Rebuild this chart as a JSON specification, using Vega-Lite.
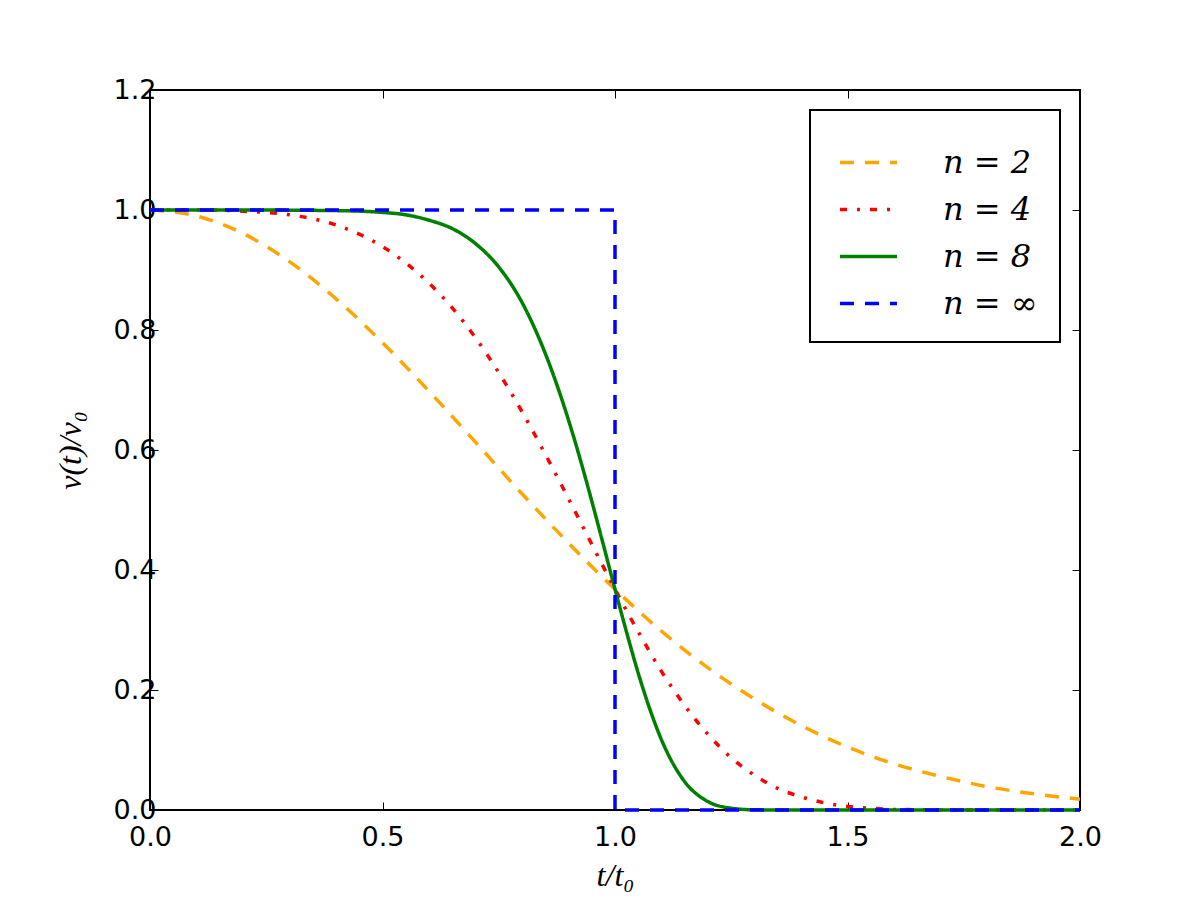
{
  "$schema": "https://vega.github.io/schema/vega-lite/v6.json",
  "width": 930,
  "height": 720,
  "autosize": {"type": "none"},
  "padding": {"left": 150, "top": 90, "right": 120, "bottom": 90},
  "background": "white",
  "config": {
    "view": {"stroke": "black", "strokeWidth": 2},
    "axis": {
      "domain": false, "grid": false,
      "tickColor": "black", "tickSize": -8, "tickWidth": 1,
      "labelFont": "DejaVu Sans", "labelFontSize": 27, "labelColor": "black", "labelFlush": false,
      "titleFont": "Liberation Serif", "titleFontStyle": "italic", "titleFontWeight": "normal",
      "titleFontSize": 32, "titleColor": "black"
    },
    "legend": {
      "orient": "top-right", "offset": 20,
      "strokeColor": "black", "strokeWidth": 2, "fillColor": "white",
      "padding": 22,
      "symbolType": "stroke", "symbolSize": 3250, "symbolStrokeWidth": 3.5, "symbolOffset": 6,
      "labelFont": "DejaVu Serif", "labelFontStyle": "italic", "labelFontSize": 32,
      "labelColor": "black", "labelOffset": 44, "rowPadding": -2
    }
  },
  "datasets": {
    "curves": [
      {"n": "n = 2", "t": 0, "v": 1},
      {"n": "n = 2", "t": 0.1, "v": 0.990},
      {"n": "n = 2", "t": 0.2, "v": 0.961},
      {"n": "n = 2", "t": 0.3, "v": 0.914},
      {"n": "n = 2", "t": 0.4, "v": 0.852},
      {"n": "n = 2", "t": 0.5, "v": 0.779},
      {"n": "n = 2", "t": 0.6, "v": 0.698},
      {"n": "n = 2", "t": 0.7, "v": 0.613},
      {"n": "n = 2", "t": 0.8, "v": 0.527},
      {"n": "n = 2", "t": 0.9, "v": 0.445},
      {"n": "n = 2", "t": 1.0, "v": 0.368},
      {"n": "n = 2", "t": 1.1, "v": 0.298},
      {"n": "n = 2", "t": 1.2, "v": 0.237},
      {"n": "n = 2", "t": 1.3, "v": 0.185},
      {"n": "n = 2", "t": 1.4, "v": 0.141},
      {"n": "n = 2", "t": 1.5, "v": 0.105},
      {"n": "n = 2", "t": 1.6, "v": 0.077},
      {"n": "n = 2", "t": 1.7, "v": 0.056},
      {"n": "n = 2", "t": 1.8, "v": 0.039},
      {"n": "n = 2", "t": 1.9, "v": 0.027},
      {"n": "n = 2", "t": 2.0, "v": 0.018},
      {"n": "n = 4", "t": 0, "v": 1},
      {"n": "n = 4", "t": 0.1, "v": 1.0},
      {"n": "n = 4", "t": 0.2, "v": 0.998},
      {"n": "n = 4", "t": 0.3, "v": 0.992},
      {"n": "n = 4", "t": 0.4, "v": 0.975},
      {"n": "n = 4", "t": 0.5, "v": 0.939},
      {"n": "n = 4", "t": 0.6, "v": 0.878},
      {"n": "n = 4", "t": 0.65, "v": 0.837},
      {"n": "n = 4", "t": 0.7, "v": 0.787},
      {"n": "n = 4", "t": 0.75, "v": 0.729},
      {"n": "n = 4", "t": 0.8, "v": 0.664},
      {"n": "n = 4", "t": 0.85, "v": 0.593},
      {"n": "n = 4", "t": 0.9, "v": 0.519},
      {"n": "n = 4", "t": 0.95, "v": 0.443},
      {"n": "n = 4", "t": 1.0, "v": 0.368},
      {"n": "n = 4", "t": 1.05, "v": 0.297},
      {"n": "n = 4", "t": 1.1, "v": 0.231},
      {"n": "n = 4", "t": 1.15, "v": 0.174},
      {"n": "n = 4", "t": 1.2, "v": 0.126},
      {"n": "n = 4", "t": 1.25, "v": 0.087},
      {"n": "n = 4", "t": 1.3, "v": 0.058},
      {"n": "n = 4", "t": 1.35, "v": 0.036},
      {"n": "n = 4", "t": 1.4, "v": 0.022},
      {"n": "n = 4", "t": 1.45, "v": 0.012},
      {"n": "n = 4", "t": 1.5, "v": 0.006},
      {"n": "n = 4", "t": 1.55, "v": 0.003},
      {"n": "n = 4", "t": 1.6, "v": 0.001},
      {"n": "n = 4", "t": 1.7, "v": 0.0002},
      {"n": "n = 4", "t": 1.8, "v": 0},
      {"n": "n = 4", "t": 2.0, "v": 0},
      {"n": "n = 8", "t": 0, "v": 1},
      {"n": "n = 8", "t": 0.2, "v": 1},
      {"n": "n = 8", "t": 0.4, "v": 0.999},
      {"n": "n = 8", "t": 0.5, "v": 0.996},
      {"n": "n = 8", "t": 0.55, "v": 0.992},
      {"n": "n = 8", "t": 0.6, "v": 0.983},
      {"n": "n = 8", "t": 0.65, "v": 0.969},
      {"n": "n = 8", "t": 0.7, "v": 0.944},
      {"n": "n = 8", "t": 0.75, "v": 0.905},
      {"n": "n = 8", "t": 0.8, "v": 0.846},
      {"n": "n = 8", "t": 0.85, "v": 0.761},
      {"n": "n = 8", "t": 0.9, "v": 0.650},
      {"n": "n = 8", "t": 0.925, "v": 0.585},
      {"n": "n = 8", "t": 0.95, "v": 0.515},
      {"n": "n = 8", "t": 0.975, "v": 0.442},
      {"n": "n = 8", "t": 1.0, "v": 0.368},
      {"n": "n = 8", "t": 1.025, "v": 0.296},
      {"n": "n = 8", "t": 1.05, "v": 0.228},
      {"n": "n = 8", "t": 1.075, "v": 0.168},
      {"n": "n = 8", "t": 1.1, "v": 0.117},
      {"n": "n = 8", "t": 1.15, "v": 0.047},
      {"n": "n = 8", "t": 1.2, "v": 0.014},
      {"n": "n = 8", "t": 1.25, "v": 0.003},
      {"n": "n = 8", "t": 1.3, "v": 0.0003},
      {"n": "n = 8", "t": 1.4, "v": 0},
      {"n": "n = 8", "t": 1.6, "v": 0},
      {"n": "n = 8", "t": 2.0, "v": 0}
    ],
    "step": [
      {"n": "n = ∞", "t": 0, "v": 1, "k": 0},
      {"n": "n = ∞", "t": 1, "v": 1, "k": 1},
      {"n": "n = ∞", "t": 1, "v": 0, "k": 2},
      {"n": "n = ∞", "t": 2, "v": 0, "k": 3}
    ]
  },
  "layer": [
    {
      "data": {"name": "curves"},
      "mark": {"type": "line", "interpolate": "monotone", "strokeWidth": 3.5, "clip": false},
      "encoding": {
        "x": {"field": "t", "type": "quantitative",
              "scale": {"domain": [0, 2], "nice": false, "zero": false},
              "axis": {"values": [0, 0.5, 1, 1.5, 2], "format": ".1f", "labelPadding": 22, "title": "t/t₀", "titlePadding": 10}},
        "y": {"field": "v", "type": "quantitative",
              "scale": {"domain": [0, 1.2], "nice": false},
              "axis": {"values": [0, 0.2, 0.4, 0.6, 0.8, 1.0, 1.2], "format": ".1f", "labelPadding": 2, "title": "v(t)/v₀", "titlePadding": 26}},
        "color": {"field": "n", "type": "nominal",
                  "scale": {"domain": ["n = 2", "n = 4", "n = 8", "n = ∞"], "range": ["#FFA500", "#FF0000", "#008000", "#0000FF"]},
                  "legend": {"title": null}},
        "strokeDash": {"field": "n", "type": "nominal",
                  "scale": {"domain": ["n = 2", "n = 4", "n = 8", "n = ∞"], "range": [[14, 11], [7, 10, 3, 10], [1, 0], [14, 11]]},
                  "legend": {"title": null}},
        "order": {"field": "t"}
      }
    },
    {
      "data": {"name": "step"},
      "mark": {"type": "line", "strokeWidth": 3.5, "clip": false},
      "encoding": {
        "x": {"field": "t", "type": "quantitative", "axis": null},
        "y": {"field": "v", "type": "quantitative", "axis": null},
        "color": {"field": "n", "type": "nominal", "legend": {"title": null}},
        "strokeDash": {"field": "n", "type": "nominal", "legend": {"title": null}},
        "order": {"field": "k"}
      }
    },
    {
      "data": {"name": "step"},
      "mark": {"type": "point", "opacity": 0},
      "encoding": {
        "x": {"field": "t", "type": "quantitative",
              "axis": {"orient": "top", "values": [0, 0.5, 1, 1.5, 2], "labels": false, "title": null}},
        "y": {"field": "v", "type": "quantitative",
              "axis": {"orient": "right", "values": [0, 0.2, 0.4, 0.6, 0.8, 1.0, 1.2], "labels": false, "title": null}}
      }
    }
  ],
  "resolve": {"axis": {"x": "independent", "y": "independent"}}
}
